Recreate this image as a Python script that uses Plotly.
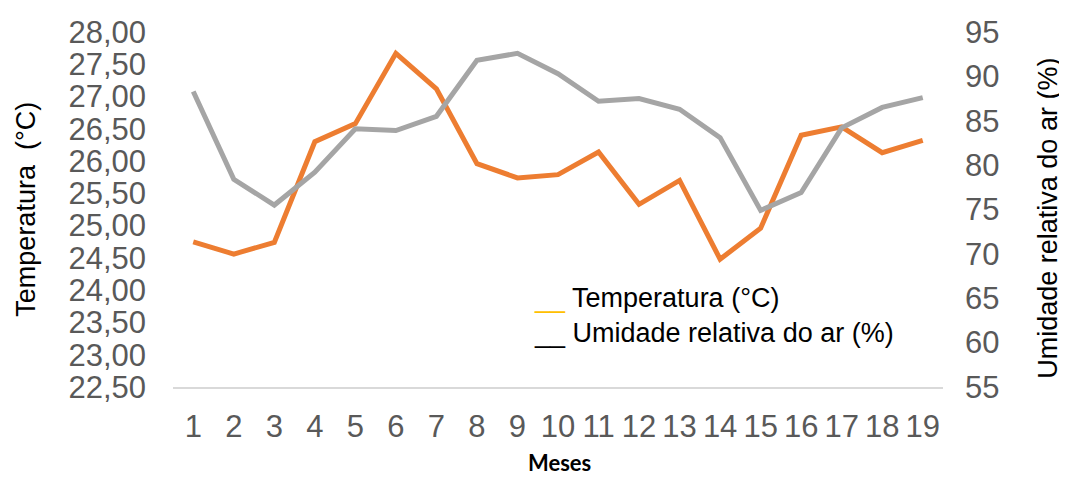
import plotly.graph_objects as go

meses = list(range(1, 20))
temperatura = [24.75, 24.56, 24.74, 26.30, 26.58, 27.67, 27.12, 25.96, 25.74, 25.79,
               26.14, 25.33, 25.70, 24.48, 24.96, 26.40, 26.53, 26.13, 26.32]
umidade = [88.3, 78.4, 75.5, 79.2, 84.1, 83.9, 85.5, 91.8, 92.6, 90.3,
           87.2, 87.5, 86.3, 83.1, 74.9, 76.9, 84.2, 86.5, 87.6]

temp_ticks = [22.5 + 0.5 * i for i in range(12)]
temp_labels = [f"{v:.2f}".replace(".", ",") for v in temp_ticks]
umid_ticks = list(range(55, 100, 5))

ORANGE = "#ED7D31"
GRAY = "#A5A5A5"
TICK = "#595959"
FONT = "Liberation Sans, Arial, sans-serif"

fig = go.Figure()
fig.add_trace(go.Scatter(x=meses, y=temperatura, mode="lines", name="Temperatura (°C)",
                         line=dict(color=ORANGE, width=5), yaxis="y"))
fig.add_trace(go.Scatter(x=meses, y=umidade, mode="lines", name="Umidade relativa do ar (%)",
                         line=dict(color=GRAY, width=5), yaxis="y2"))

# the page body has an 8px margin, so the figure is placed at (8, 8)
fig.update_layout(
    width=1059, height=469,
    margin=dict(l=165, r=124, t=24, b=90, autoexpand=False),
    paper_bgcolor="white", plot_bgcolor="white",
    showlegend=False,
    font=dict(family=FONT, color=TICK),
    xaxis=dict(
        range=[0.5, 19.5], tickmode="array", tickvals=meses, ticktext=[str(m) for m in meses],
        showgrid=False, zeroline=False, showline=True, linecolor="#D9D9D9", linewidth=2,
        ticks="", tickfont=dict(size=31, color=TICK), ticklabelstandoff=11, automargin=False,
    ),
    yaxis=dict(
        range=[22.5, 28.0], tickmode="array", tickvals=temp_ticks, ticktext=temp_labels,
        showgrid=False, zeroline=False, showline=False, ticks="",
        tickfont=dict(size=31, color=TICK), ticklabelstandoff=26, automargin=False,
    ),
    yaxis2=dict(
        range=[55, 95], tickmode="array", tickvals=umid_ticks,
        overlaying="y", side="right",
        showgrid=False, zeroline=False, showline=False, ticks="",
        tickfont=dict(size=31, color=TICK), ticklabelstandoff=21, automargin=False,
    ),
    annotations=[
        dict(text="Temperatura&nbsp; (°C)", xref="paper", yref="paper", x=-0.192, y=0.5,
             textangle=-90, showarrow=False, xanchor="center", yanchor="middle",
             font=dict(size=27, color="black", family=FONT)),
        dict(text="Umidade relativa do ar (%)", xref="paper", yref="paper", x=1.136, y=0.476,
             textangle=-90, showarrow=False, xanchor="center", yanchor="middle",
             font=dict(size=27, color="black", family=FONT)),
        dict(text="<b>Meses</b>", xref="paper", yref="paper", x=0.502, y=-0.214,
             showarrow=False, xanchor="center", yanchor="middle",
             font=dict(size=22, color="black", family="Lato, Open Sans, sans-serif")),
        dict(text="<span style='color:#FFC000'>__</span> Temperatura (°C)", xref="paper", yref="paper",
             x=0.466, y=0.251, showarrow=False, xanchor="left", yanchor="middle",
             font=dict(size=27, color="black", family=FONT)),
        dict(text="__ Umidade relativa do ar (%)", xref="paper", yref="paper",
             x=0.466, y=0.153, showarrow=False, xanchor="left", yanchor="middle",
             font=dict(size=27, color="black", family=FONT)),
    ],
)

fig.write_html("out.html")
